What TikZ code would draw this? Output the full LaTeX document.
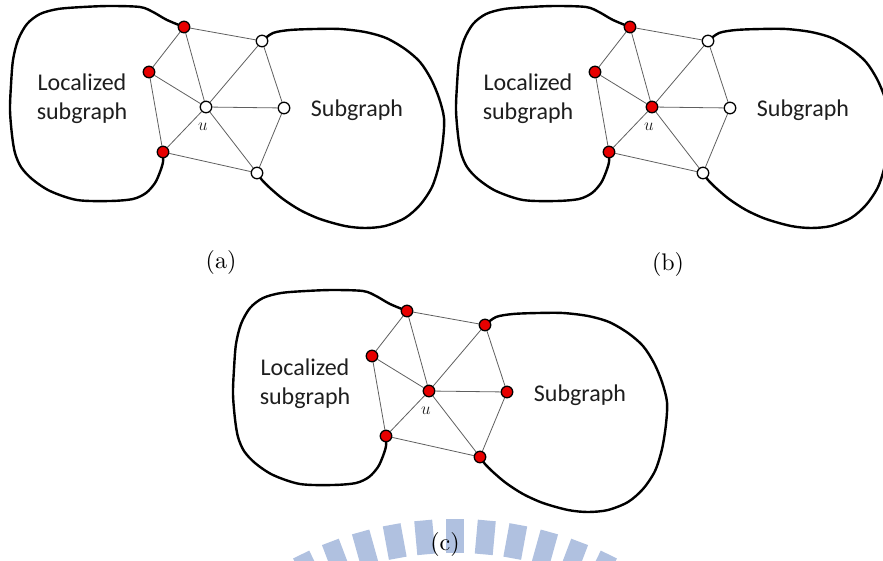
\documentclass[tikz,border=0pt]{standalone}
\usepackage{fontspec}
\newfontfamily\labelfont{Carlito}
\newfontfamily\capfont{lmroman10-regular}[Extension=.otf]

\pgfdeclarelayer{bg}
\pgfsetlayers{bg,main}

\definecolor{vred}{RGB}{232,0,0}
\definecolor{edgegray}{RGB}{95,95,95}
\definecolor{wmblue}{RGB}{176,193,224}
\definecolor{labelgray}{RGB}{30,30,30}

\tikzset{
  vtx/.style={circle, draw=black, line width=1.3pt, minimum size=11.5pt, inner sep=0pt},
  redvtx/.style={vtx, fill=vred},
  whitevtx/.style={vtx, fill=white},
  link/.style={draw=edgegray, line width=0.8pt},
  region/.style={draw=black, line width=2.4pt, line join=round, line cap=round},
  regionlabel/.style={font=\labelfont\fontsize{24}{28}\selectfont, text=labelgray, anchor=base, inner sep=0pt},
  caption/.style={font=\capfont\fontsize{24}{29}\selectfont, inner sep=0pt},
  ulabel/.style={font=\fontsize{17}{19}\selectfont, text=labelgray, inner sep=0pt},
  wmbar/.style={fill=wmblue, draw=none},
}

% #1 name prefix, #2 shift, #3 style of u, #4 style of the right-hand vertices
\newcommand\subgraphpanel[4]{%
\begin{scope}[shift={(#2)}]
  \node[redvtx] (#1rt) at (184,27) {};
  \node[redvtx] (#1rl) at (149,72) {};
  \node[redvtx] (#1rb) at (163,152) {};
  \node[#3] (#1u) at (206,107) {};
  \node[#4] (#1wt) at (262,41) {};
  \node[#4] (#1wr) at (284,108) {};
  \node[#4] (#1wb) at (257,173) {};
  \node[ulabel] (#1ulab) at (203,127) {$u$};
  \node[regionlabel] (#1loca) at (82,91) {Localized};
  \node[regionlabel] (#1locb) at (82,120) {subgraph};
  \node[regionlabel] (#1sub) at (357,117) {Subgraph};
  \begin{pgfonlayer}{bg}
    % localized subgraph outline
    \draw[region] plot[smooth] coordinates {(#1rt.center) (167,20) (153,12) (140,7)
      (110,6) (83,7) (58,9) (40,14) (27,24) (18,40) (13,60) (11,85) (10,110)
      (12,135) (15,153) (21,167) (32,179) (50,191) (77,200) (110,201) (133,199)
      (146,193) (155,183) (160,172) (163,162) (#1rb.center)};
    % subgraph outline
    \draw[region] plot[smooth] coordinates {(#1wt.center) (273,33) (290,30) (315,29)
      (340,29) (365,32) (386,38) (405,49) (420,62) (431,79) (439,98) (444,118)
      (443,140) (439,165) (432,187) (420,205) (405,218) (385,226) (365,228)
      (345,226) (320,219) (300,210) (283,199) (270,188) (262,180) (#1wb.center)};
    \foreach \va/\vb in {rt/wt, rt/rl, rt/u, rl/u, rl/rb, rb/u, rb/wb, u/wt, u/wr, u/wb, wt/wr, wr/wb}
      \draw[link] (#1\va) -- (#1\vb);
  \end{pgfonlayer}
\end{scope}}

\begin{document}
\begin{tikzpicture}[x=1pt, y=-1pt]
  \useasboundingbox (0,0) rectangle (883,561);
  % emblem bars along the bottom edge
  \begin{pgfonlayer}{bg}
    \foreach \k in {-6,...,6} {
      \begin{scope}[shift={(455,870)}, rotate={5.2*\k}]
        \fill[wmbar] (-9,-351) -- (9,-351) -- (9,-317) -- (-9,-317) -- cycle;
      \end{scope}
    }
  \end{pgfonlayer}

  \subgraphpanel{a}{0,0}{whitevtx}{whitevtx}
  \subgraphpanel{b}{446,0}{redvtx}{whitevtx}
  \subgraphpanel{c}{223,284}{redvtx}{redvtx}

  \node[caption] (capa) at (221,263) {(a)};
  \node[caption] (capb) at (668,264) {(b)};
  \node[caption] (capc) at (445,544) {(c)};
\end{tikzpicture}
\end{document}
